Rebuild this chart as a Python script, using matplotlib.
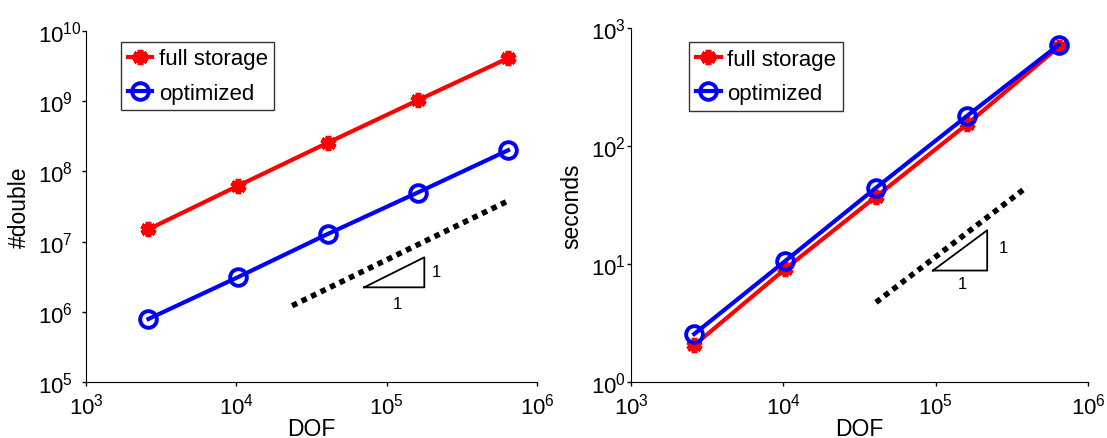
import numpy as np
import matplotlib.pyplot as plt

plt.rcParams['font.family'] = ['Liberation Sans', 'DejaVu Sans']
plt.rcParams['mathtext.default'] = 'regular'

# ---------------- data ----------------
dof = [2601, 10201, 40401, 160801, 641601]

# memory (#double)
mem_full = [1.5e7, 6.2e7, 2.55e8, 1.03e9, 4.1e9]
mem_opt = [7.9e5, 3.1e6, 1.28e7, 5.0e7, 2.0e8]

# run time (seconds)
time_full = [2.05, 9.0, 37.0, 153.0, 690.0]
time_opt = [2.55, 10.5, 44.0, 180.0, 718.0]

# slope guides: dotted reference line and the little 1:1 triangle
mem_guide_x = [2.35e4, 6.5e5]
mem_guide_y = [1.22e6, 3.85e7]
mem_tri_x = [7.08e4, 1.78e5, 1.78e5, 7.08e4]
mem_tri_y = [2.23e6, 2.23e6, 5.97e6, 2.23e6]
mem_lbl = [(2.0e5, 3.75e6), (1.18e5, 1.31e6)]

time_guide_x = [4.06e4, 3.98e5]
time_guide_y = [4.73, 45.0]
time_tri_x = [9.6e4, 2.18e5, 2.18e5, 9.6e4]
time_tri_y = [8.8, 8.8, 19.3, 8.8]
time_lbl = [(2.6e5, 13.7), (1.49e5, 6.8)]

labels = ['full storage', 'optimized']


def draw(ax, yfull, yopt, gx, gy, tx, ty, lbl, ylim, ylabel, leg_anchor,
         ypad, ylab_x):
    ax.loglog(dof, yfull, color='red', lw=3.0, marker=(6, 2, 0), ms=11,
              mew=4, mec='red', label=labels[0])
    ax.loglog(dof, yopt, color='blue', lw=3.0, marker='o', ms=12,
              mew=2.8, mfc='none', mec='blue', label=labels[1])
    ax.plot(gx, gy, color='black', lw=4, dashes=(1, 0.9),
            dash_capstyle='butt')
    ax.plot(tx, ty, color='black', lw=1.3)
    ax.text(lbl[0][0], lbl[0][1], '1', fontsize=12, ha='left', va='center')
    ax.text(lbl[1][0], lbl[1][1], '1', fontsize=12, ha='center', va='center')

    ax.set_xlim(1e3, 1e6)
    ax.set_ylim(*ylim)
    ax.spines['top'].set_visible(False)
    ax.spines['right'].set_visible(False)
    ax.minorticks_off()
    ax.tick_params(which='major', direction='out', length=3, width=1,
                   labelsize=16)
    ax.tick_params(axis='x', pad=5)
    # MATLAB lines up the "10" of every label, so anchor them on the left
    ax.tick_params(axis='y', pad=ypad)
    for t in ax.get_yticklabels():
        t.set_horizontalalignment('left')

    ax.set_xlabel('DOF', fontsize=16.5)
    ax.set_ylabel(ylabel, fontsize=16.5)
    ax.xaxis.label.set_verticalalignment('center')
    ax.yaxis.label.set_verticalalignment('center')
    ax.xaxis.set_label_coords(0.5, -0.132)
    ax.yaxis.set_label_coords(ylab_x, 0.5)

    leg = ax.legend(loc='upper left', bbox_to_anchor=leg_anchor, fontsize=16,
                    frameon=True, fancybox=False, edgecolor='black',
                    handlelength=1.1, handletextpad=0.3, borderpad=0.3,
                    labelspacing=0.6, borderaxespad=0)
    leg.get_frame().set_linewidth(1.0)


fig = plt.figure(figsize=(11.07, 4.39), dpi=100)
ax1 = fig.add_axes([0.0777, 0.1276, 0.4074, 0.7995])
ax2 = fig.add_axes([0.5700, 0.1276, 0.4128, 0.8064])

draw(ax1, mem_full, mem_opt, mem_guide_x, mem_guide_y, mem_tri_x, mem_tri_y,
     mem_lbl, (1e5, 1e10), '#double', (0.0776, 0.9695), 31.5, -0.147)
draw(ax2, time_full, time_opt, time_guide_x, time_guide_y, time_tri_x,
     time_tri_y, time_lbl, (1, 1e3), 'seconds', (0.128, 0.960), 26, -0.129)

fig.savefig('out.png', dpi=100)
